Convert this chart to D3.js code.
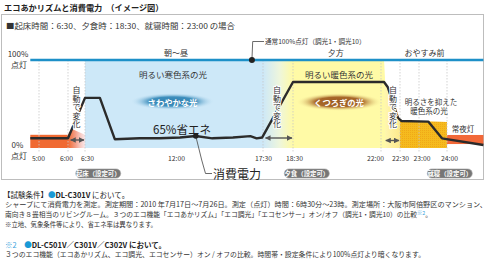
<!DOCTYPE html>
<html><head><meta charset="utf-8">
<script src="https://cdn.jsdelivr.net/npm/d3@7"></script>
<style>
html,body{margin:0;padding:0;background:#fff;}
svg{display:block;font-family:"Noto Sans CJK JP","Noto Sans",sans-serif;}
</style></head>
<body>
<script>
// ---------------- data ----------------
const tickHours = [5, 6, 6.5, 12, 17.5, 18.5, 22, 22.5, 23, 24];
const tickLabels = ["5:00", "6:00", "6:30", "12:00", "17:30", "18:30", "22:00", "22:30", "23:00", "24:00"];
const gridHours = [5, 6, 6.5, 17.5, 18.5, 22, 22.5, 23, 24];
// power consumption (% of full lighting) over time (hours)
const powerHours = [4.7, 6.0, 6.5, 7.4, 8.3, 9.8, 11.0, 12.25, 13.25, 14.3, 15.6, 16.7, 17.1, 17.45, 18.5, 22.08, 22.18, 22.45, 22.54, 23.33, 23.82, 25.3];
const powerPct   = [11, 11, 57, 57, 10, 11, 11, 12, 13.6, 11, 12, 13.5, 11, 12, 75, 75, 69, 34, 30.7, 30, 11, 3.4];
const fullHours = [4.7, 25.3];           // 通常100%点灯
const periodNames = ["朝〜昼", "夕方", "おやすみ前"];
const periodCenters = [12.0, 20.2, 23.2];
const lightNames = ["明るい寒色系の光", "明るい暖色系の光"];
const moodNames = ["さわやかな光", "くつろぎの光"];
const autoSpans = [[6.05, 6.5], [17.55, 18.5], [22.1, 22.5]];
const pillLabels = ["起床（設定可）", "夕食（設定可）", "就寝（設定可）"];
const pillHours = [7.3, 19.05, 24.1];
const notes = [
  "シャープにて消費電力を測定。測定期間：2010 年7月17日〜7月26日。測定（点灯）時間：6時30分〜23時。測定場所：大阪市阿倍野区のマンション、",
  "南向き８畳相当のリビングルーム。３つのエコ機能「エコあかリズム」「エコ調光」「エコセンサー」オン/オフ（調光1・調光10）の比較",
  "※立地、気象条件等により、省エネ率は異なります。",
  "３つのエコ機能（エコあかリズム、エコ調光、エコセンサー）オン / オフの比較。時間帯・設定条件により100%点灯より暗くなります。"
];

// ---------------- layout ----------------
const W = 490, H = 263;
const svg = d3.select("body").append("svg").attr("width", W).attr("height", H);
const x = d3.scaleLinear().domain(tickHours).range([39, 68, 85, 176, 263, 293, 381, 400, 419, 447]);
const y = d3.scaleLinear().domain([0, 100]).range([148, 60]);
const FONT = '"Noto Sans CJK JP","Noto Sans",sans-serif';
const labelShift = [-1, -2, 2, 0, 0, 1, -6, 0, 2.5, 2];

const defs = svg.append("defs");
function lin(id, stops) {
  const g = defs.append("linearGradient").attr("id", id);
  stops.forEach(s => g.append("stop").attr("offset", s[0]).attr("stop-color", s[1]).attr("stop-opacity", s[2] == null ? 1 : s[2]));
}
function rad(id, stops) {
  const g = defs.append("radialGradient").attr("id", id);
  stops.forEach(s => g.append("stop").attr("offset", s[0]).attr("stop-color", s[1]).attr("stop-opacity", s[2] == null ? 1 : s[2]));
}
lin("gOrange", [["0%", "#f06a32"], ["45%", "#f4a08a"], ["100%", "#f6d6d8", 0.6]]);
lin("gBY", [["0%", "#cde8f8"], ["55%", "#eef6dc"], ["100%", "#fffaa6"]]);
lin("gGold", [["0%", "#fff7b0"], ["100%", "#f6bf22"]]);
rad("gBlueE", [["0%", "#2f7fae"], ["55%", "#3f8fbd"], ["100%", "#cde8f8", 0]]);
rad("gBrownE", [["0%", "#9a5a20"], ["55%", "#a8682a"], ["100%", "#fffaa6", 0]]);
const pat = defs.append("pattern").attr("id", "dots").attr("width", 2).attr("height", 2).attr("patternUnits", "userSpaceOnUse");
pat.append("rect").attr("width", 2).attr("height", 2).attr("fill", "#f5bb1e");
pat.append("rect").attr("width", 1).attr("height", 1).attr("fill", "#f0a818");
const mk = defs.append("marker").attr("id", "ah").attr("viewBox", "0 0 10 10").attr("refX", 9).attr("refY", 5)
  .attr("markerWidth", 4).attr("markerHeight", 4).attr("orient", "auto-start-reverse");
mk.append("path").attr("d", "M0,0L10,5L0,10z").attr("fill", "#555");

// title
svg.append("text").attr("x", 4).attr("y", 6.5).attr("dominant-baseline", "central")
  .attr("font-size", 8.2).attr("font-weight", "bold").attr("fill", "#222").text("エコあかリズムと消費電力　（イメージ図）");
// box
svg.append("rect").attr("x", 1.5).attr("y", 14.5).attr("width", 482).attr("height", 165)
  .attr("fill", "#fff").attr("stroke", "#bdbdbd");
svg.append("text").attr("x", 6).attr("y", 25).attr("dominant-baseline", "central")
  .attr("font-size", 7.6).attr("fill", "#333").attr("textLength", 229).attr("lengthAdjust", "spacingAndGlyphs")
  .text("■起床時間：6:30、夕食時：18:30、就寝時間：23:00 の場合");

// ---------------- fills ----------------
const g = svg.append("g");
g.append("rect").attr("x", x(4.7)).attr("width", x(6) - x(4.7)).attr("y", y(15)).attr("height", y(0) - y(15)).attr("fill", "#f06a32");
g.append("path").attr("d", d3.line()([[x(6), y(0)], [x(6), y(15)], [x(6.1), y(22)], [x(6.5), y(15)], [x(6.5), y(0)]])).attr("fill", "url(#gOrange)");
g.append("rect").attr("x", x(6.5)).attr("width", x(17.5) - x(6.5)).attr("y", y(100)).attr("height", y(0) - y(100)).attr("fill", "#cde8f8");
g.append("rect").attr("x", x(17.5)).attr("width", x(18.5) - x(17.5)).attr("y", y(100)).attr("height", y(0) - y(100)).attr("fill", "url(#gBY)");
g.append("path").attr("d", d3.line()([[x(18.5), y(100)], [x(22.08), y(100)], [x(22.2), y(0)], [x(18.5), y(0)]])).attr("fill", "#fffaa6");
const goldPts = [[x(22.08), y(75)], [x(22.18), y(69)], [x(22.45), y(34)], [x(22.54), y(30.5)], [x(24), y(29.5)], [x(24), y(0)], [x(22.12), y(0)]];
g.append("path").attr("d", d3.line()(goldPts)).attr("fill", "url(#gGold)");
g.append("path").attr("d", d3.line()([[x(22.5), y(31)], [x(24), y(29.5)], [x(24), y(0)], [x(22.5), y(0)]])).attr("fill", "url(#dots)");
g.append("rect").attr("x", x(24)).attr("width", x(25.3) - x(24)).attr("y", y(14.8)).attr("height", y(4.5) - y(14.8)).attr("fill", "#f26838");

// grid lines
svg.append("g").selectAll("line").data(gridHours).join("line")
  .attr("x1", d => x(d)).attr("x2", d => x(d)).attr("y1", y(100)).attr("y2", 153)
  .attr("stroke", "#c8c8c8").attr("stroke-width", 0.8).attr("stroke-dasharray", "1.5,1.5");

// 100% line
svg.append("line").attr("x1", x(fullHours[0])).attr("x2", x(fullHours[1])).attr("y1", y(100)).attr("y2", y(100))
  .attr("stroke", "#1d90c8").attr("stroke-width", 2.6);

// period names
svg.append("g").selectAll("text").data(periodNames).join("text")
  .attr("x", (d, i) => x(periodCenters[i])).attr("y", 52).attr("text-anchor", "middle").attr("dominant-baseline", "central")
  .attr("font-size", 8).attr("fill", "#333").text(d => d);

// axis labels
const axL = svg.append("g").attr("font-size", 8).attr("fill", "#333").attr("text-anchor", "middle");
axL.append("text").attr("x", 18).attr("y", 53).attr("dominant-baseline", "central").text("100%");
axL.append("text").attr("x", 19).attr("y", 64.5).attr("dominant-baseline", "central").text("点灯");
axL.append("text").attr("x", 17.5).attr("y", 144).attr("dominant-baseline", "central").text("0%");
axL.append("text").attr("x", 19).attr("y", 155.5).attr("dominant-baseline", "central").text("点灯");

// time axis
const xAxis = d3.axisBottom(x).tickValues(tickHours).tickFormat((d, i) => tickLabels[i]).tickSize(0).tickPadding(0);
const ax = svg.append("g").attr("transform", "translate(0,157)").call(xAxis);
ax.select(".domain").remove();
ax.selectAll("text").attr("font-size", 6.8).attr("fill", "#333").attr("font-family", FONT).attr("dy", "0.55em")
  .attr("dx", (d, i) => labelShift[i]);

// light labels
svg.append("text").attr("x", 173).attr("y", 73.5).attr("text-anchor", "middle").attr("dominant-baseline", "central")
  .attr("font-size", 8.5).attr("fill", "#333").text(lightNames[0]);
svg.append("text").attr("x", 339).attr("y", 73.5).attr("text-anchor", "middle").attr("dominant-baseline", "central")
  .attr("font-size", 8.5).attr("fill", "#333").text(lightNames[1]);
svg.append("ellipse").attr("cx", 172.5).attr("cy", 101.5).attr("rx", 42).attr("ry", 8.5).attr("fill", "url(#gBlueE)");
svg.append("ellipse").attr("cx", 339).attr("cy", 102).attr("rx", 43).attr("ry", 9).attr("fill", "url(#gBrownE)");
svg.append("text").attr("x", 172.5).attr("y", 101.5).attr("text-anchor", "middle").attr("dominant-baseline", "central")
  .attr("font-size", 8.3).attr("font-weight", "bold").attr("fill", "#fff").text(moodNames[0]);
svg.append("text").attr("x", 339).attr("y", 102).attr("text-anchor", "middle").attr("dominant-baseline", "central")
  .attr("font-size", 8.3).attr("font-weight", "bold").attr("fill", "#fff").text(moodNames[1]);
svg.append("text").attr("x", 431).attr("y", 101).attr("text-anchor", "middle").attr("dominant-baseline", "central")
  .attr("font-size", 7.5).attr("fill", "#333").text("明るさを抑えた");
svg.append("text").attr("x", 429).attr("y", 110.5).attr("text-anchor", "middle").attr("dominant-baseline", "central")
  .attr("font-size", 7.5).attr("fill", "#333").text("暖色系の光");
svg.append("text").attr("x", 463).attr("y", 128).attr("text-anchor", "middle").attr("dominant-baseline", "central")
  .attr("font-size", 7.5).attr("fill", "#333").text("常夜灯");

// power line
const line = d3.line().x((d, i) => x(powerHours[i])).y(d => y(d));
svg.append("path").attr("d", line(powerPct)).attr("fill", "none").attr("stroke", "#2b2b2b")
  .attr("stroke-width", 2.4).attr("stroke-linejoin", "round");

// 自動で変化 vertical labels
[76.5, 277, 393].forEach(cx => {
  svg.append("text").attr("x", cx).attr("y", 86).attr("font-size", 8).attr("fill", "#333")
    .style("writing-mode", "vertical-rl").style("text-orientation", "upright").attr("letter-spacing", 0.5)
    .attr("stroke", "#fff").attr("stroke-width", 2).attr("paint-order", "stroke").attr("stroke-linejoin", "round")
    .text("自動で変化");
});
// arrows
svg.append("g").selectAll("line").data(autoSpans).join("line")
  .attr("x1", d => x(d[0]) + 1).attr("x2", d => x(d[1]) - 1)
  .attr("y1", (d, i) => [140, 138, 140.5][i]).attr("y2", (d, i) => [140, 138, 140.5][i])
  .attr("stroke", "#555").attr("stroke-width", 1.4)
  .attr("marker-start", "url(#ah)").attr("marker-end", "url(#ah)");

// 65%省エネ
svg.append("text").attr("x", 182).attr("y", 128.5).attr("text-anchor", "middle").attr("dominant-baseline", "central")
  .attr("font-size", 11.5).attr("fill", "#222").text("65%省エネ");
const di = 8;
svg.append("path").attr("d", d3.line()([[x(powerHours[di]), y(powerPct[di])], [201.7, 160], [205.5, 173.5], [212, 173.5]]))
  .attr("fill", "none").attr("stroke", "#444").attr("stroke-width", 0.8);
svg.append("circle").attr("cx", x(powerHours[di])).attr("cy", y(powerPct[di])).attr("r", 2.8).attr("fill", "#222");
svg.append("text").attr("x", 213).attr("y", 173.5).attr("dominant-baseline", "central")
  .attr("font-size", 12).attr("fill", "#222").text("消費電力");

const fx = 16.8;
svg.append("path").attr("d", d3.line()([[x(fx), y(100)], [252.7, 41.5], [264, 41.5]]))
  .attr("fill", "none").attr("stroke", "#444").attr("stroke-width", 0.8);
svg.append("circle").attr("cx", x(fx)).attr("cy", y(100)).attr("r", 3).attr("fill", "#222");
svg.append("text").attr("x", 265).attr("y", 41).attr("dominant-baseline", "central")
  .attr("font-size", 6.6).attr("fill", "#333").text("通常100%点灯（調光1・調光10）");

// pills
const pg = svg.append("g").selectAll("g").data(pillLabels).join("g")
  .attr("transform", (d, i) => `translate(${x(pillHours[i])},173.5)`);
pg.append("rect").attr("x", -22.5).attr("y", -4.6).attr("width", 45).attr("height", 9.2).attr("rx", 4.6)
  .attr("fill", "#767676").attr("stroke", "#aaa").attr("stroke-width", 0.6);
pg.append("text").attr("text-anchor", "middle").attr("dominant-baseline", "central")
  .attr("font-size", 6.4).attr("font-weight", "bold").attr("fill", "#fff").text(d => d);

// ---------------- footnotes ----------------
const f1 = svg.append("text").attr("x", 3).attr("y", 193.5).attr("dominant-baseline", "central").attr("font-size", 7.5).attr("fill", "#222");
f1.append("tspan").text("【試験条件】");
f1.append("tspan").attr("fill", "#1a9ad6").text("●");
f1.append("tspan").attr("font-weight", "bold").text("DL-C301V");
f1.append("tspan").text(" において。");

svg.append("text").attr("x", 5).attr("y", 203.5).attr("dominant-baseline", "central").attr("font-size", 7)
  .attr("fill", "#333").attr("textLength", 482).attr("lengthAdjust", "spacingAndGlyphs").text(notes[0]);
// line 3 as one text with tspans; size fitted to the reference width
const f3 = svg.append("text").attr("x", 5).attr("y", 214).attr("dominant-baseline", "central").attr("font-size", 7).attr("fill", "#333");
f3.append("tspan").text(notes[1]);
f3.append("tspan").attr("fill", "#3aa3dc").attr("font-size", 5.5).attr("dy", -1.5).text("※2");
f3.append("tspan").attr("dy", 1.5).text("。");
const w3 = f3.node().getComputedTextLength();
f3.attr("font-size", 7 * 428 / w3);
f3.select("tspan:nth-child(2)").attr("font-size", 5.5 * 428 / w3);
svg.append("text").attr("x", 5).attr("y", 224).attr("dominant-baseline", "central").attr("font-size", 7)
  .attr("fill", "#333").attr("textLength", 152).attr("lengthAdjust", "spacingAndGlyphs").text(notes[2]);

const f5 = svg.append("text").attr("x", 5).attr("y", 244).attr("dominant-baseline", "central").attr("font-size", 7.5).attr("fill", "#222");
f5.append("tspan").attr("fill", "#3aa3dc").text("※2　");
f5.append("tspan").attr("fill", "#1a9ad6").text("●");
f5.append("tspan").attr("font-weight", "bold").text("DL-C501V／C301V／C302V");
f5.append("tspan").attr("font-weight", "bold").text(" において。");
svg.append("text").attr("x", 5).attr("y", 254).attr("dominant-baseline", "central").attr("font-size", 7)
  .attr("fill", "#333").attr("textLength", 420).attr("lengthAdjust", "spacingAndGlyphs").text(notes[3]);
</script>
</body></html>
